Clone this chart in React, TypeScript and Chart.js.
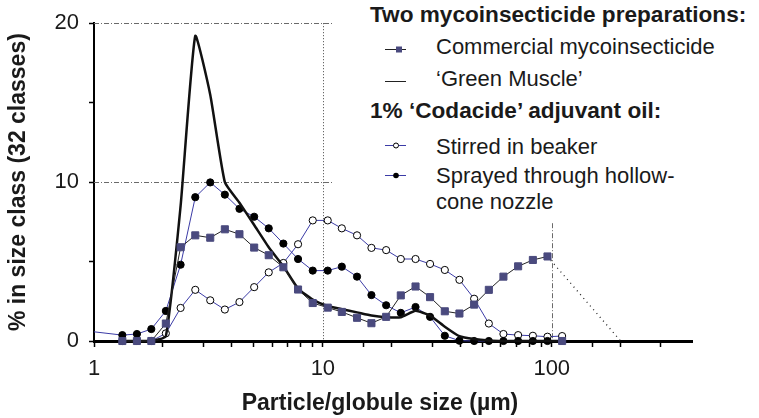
import React, { useEffect, useRef } from "react";
import { Chart, registerables } from "chart.js";

Chart.register(...registerables);

// Size classes (µm)
const sizes = [1.33, 1.54, 1.78, 2.06, 2.39, 2.77, 3.22, 3.73, 4.32, 5.01, 5.8, 6.72, 7.79, 9.03, 10.5, 12.1, 14.1, 16.3, 18.9, 21.9, 25.4, 29.4, 34.1, 39.5, 45.8, 53.1, 61.5, 71.3, 82.7, 95.8, 111];

const commercial = [0, 0, 0, 1.1, 5.9, 6.65, 6.5, 7.03, 6.72, 5.88, 5.4, 4.64, 3.24, 2.39, 2.1, 1.83, 1.46, 1.12, 1.52, 2.87, 3.43, 2.76, 1.87, 1.73, 2.29, 3.22, 4.05, 4.7, 5.1, 5.32, 0];
const greenMuscle = [0, 0, 0, 0.3, 8.5, 19.2, 15.5, 10.0, 8.7, 7.3, 5.9, 4.7, 3.3, 2.6, 2.2, 2.0, 1.8, 1.6, 1.5, 1.5, 1.9, 1.6, 0.9, 0.3, 0.12, 0.03, 0, 0, 0, 0, 0];
const stirred = [0, 0, 0, 0.48, 2.08, 3.22, 2.56, 1.98, 2.45, 3.39, 4.32, 4.91, 6.09, 7.59, 7.59, 7.09, 6.65, 5.86, 5.72, 5.16, 5.16, 4.85, 4.47, 3.85, 2.66, 1.1, 0.44, 0.37, 0.33, 0.27, 0.31];
const sprayed = [0.37, 0.44, 0.75, 1.89, 4.8, 9.05, 9.98, 9.21, 8.32, 7.82, 7.09, 6.13, 5.16, 4.43, 4.43, 4.68, 4.05, 2.89, 2.25, 1.77, 2.14, 1.52, 0.33, 0.02, 0, 0, 0, 0, 0, 0, null];
const sprayedLeadSize = 0.87;
const sprayedLeadValue = 0.68;

// dotted extrapolation of the commercial curve
const tailSizes = [95.8, 200];
const tailValues = [5.32, 0];

const xLabelValues = [1, 10, 100];
const xTickMax = 300;
const yLabelValues = [0, 10, 20];
const gridY = [10, 20];
const gridXDotted = [10];
const gridXDashDot = [100];

const xTitle = "Particle/globule size (\u00b5m)";
const yTitle = "% in size class (32 classes)";
const legendHead1 = "Two mycoinsecticide preparations:";
const legendHead2 = "1% \u2018Codacide\u2019 adjuvant oil:";
const legendCommercial = "Commercial mycoinsecticide";
const legendGreen = "\u2018Green Muscle\u2019";
const legendStirred = "Stirred in beaker";
const legendSprayed1 = "Sprayed through hollow-";
const legendSprayed2 = "cone nozzle";

const FONT = '"Liberation Sans", Arial, Helvetica, sans-serif';
const BLUE = "#3b3ba6";
const SQUARE = "#4a4a7e";
const INK = "#1a1a1a";

const pts = (xs: number[], ys: (number | null)[]) => xs.map((x, i) => ({ x, y: ys[i] }));

const guides = {
  id: "guides",
  beforeDatasetsDraw(chart: any) {
    const { ctx, chartArea: a, scales } = chart;
    const x = scales.x;
    const y = scales.y;
    ctx.save();
    ctx.lineWidth = 1;
    ctx.strokeStyle = "#6a6a6a";
    ctx.setLineDash([5, 2, 1, 2]);
    for (const v of gridY) {
      const py = Math.round(y.getPixelForValue(v)) + 0.5;
      ctx.beginPath();
      ctx.moveTo(a.left, py);
      ctx.lineTo(a.right, py);
      ctx.stroke();
    }
    for (const v of gridXDashDot) {
      const px = Math.round(x.getPixelForValue(v)) + 0.5;
      ctx.beginPath();
      ctx.moveTo(px, a.top);
      ctx.lineTo(px, a.bottom);
      ctx.stroke();
    }
    ctx.strokeStyle = "#444";
    ctx.setLineDash([1, 2]);
    for (const v of gridXDotted) {
      const px = Math.round(x.getPixelForValue(v)) + 0.5;
      ctx.beginPath();
      ctx.moveTo(px, a.top);
      ctx.lineTo(px, a.bottom);
      ctx.stroke();
    }
    ctx.restore();
  },
};

function Legend() {
  const textBase: React.CSSProperties = {
    position: "absolute",
    fontFamily: FONT,
    fontSize: 22,
    lineHeight: "22px",
    color: INK,
    whiteSpace: "nowrap",
  };
  const row = (baseline: number, left: number, text: string, bold = false) => (
    <div
      style={{
        ...textBase,
        left: left - 333,
        top: baseline - 18.6,
        fontWeight: bold ? "bold" : "normal",
        fontSize: bold ? 22.6 : 22,
      }}
    >
      {text}
    </div>
  );
  return (
    <div style={{ position: "absolute", left: 333, top: 0, width: 426, height: 222, background: "#fff" }}>
      <svg width={426} height={222} style={{ position: "absolute", left: 0, top: 0 }}>
        <g transform="translate(-333,0)">
          <line x1={385} x2={406} y1={49.5} y2={49.5} stroke="#222" strokeWidth={1} />
          <rect x={396} y={46.5} width={6} height={6} fill={SQUARE} />
          <line x1={385} x2={406} y1={81.5} y2={81.5} stroke="#222" strokeWidth={1} />
          <line x1={385} x2={406} y1={145.5} y2={145.5} stroke={BLUE} strokeWidth={1} />
          <circle cx={396} cy={145.5} r={2.5} fill="#fff" stroke="#000" strokeWidth={1} />
          <line x1={385} x2={406} y1={175.5} y2={175.5} stroke={BLUE} strokeWidth={1} />
          <circle cx={396} cy={175.5} r={2.8} fill="#000" />
        </g>
      </svg>
      {row(23, 370, legendHead1, true)}
      {row(55, 436, legendCommercial)}
      {row(87, 436, legendGreen)}
      {row(119, 370, legendHead2, true)}
      {row(155, 436, legendStirred)}
      {row(184, 436, legendSprayed1)}
      {row(210, 436, legendSprayed2)}
    </div>
  );
}

export default function App() {
  const canvasRef = useRef<HTMLCanvasElement | null>(null);

  useEffect(() => {
    if (!canvasRef.current) return;
    const tickFont = { family: FONT, size: 22 };
    const chart = new Chart(canvasRef.current, {
      type: "line",
      data: {
        datasets: [
          {
            label: "Commercial mycoinsecticide",
            data: pts(sizes, commercial),
            borderColor: "#222",
            borderWidth: 1,
            pointStyle: "rect",
            pointRadius: 5,
            pointBackgroundColor: SQUARE,
            pointBorderColor: SQUARE,
            pointBorderWidth: 1,
            segment: {
              borderColor: (c: any) => (c.p1DataIndex === commercial.length - 1 ? "rgba(0,0,0,0)" : "#222"),
            },
            order: 0,
            clip: false,
          } as any,
          {
            label: "Green Muscle",
            data: pts(sizes, greenMuscle),
            borderColor: "#111",
            borderWidth: 2.5,
            pointRadius: 0,
            tension: 0.15,
            order: 1,
            clip: false,
          },
          {
            label: "Sprayed through hollow-cone nozzle",
            data: [{ x: sprayedLeadSize, y: sprayedLeadValue }, ...pts(sizes, sprayed)],
            borderColor: BLUE,
            borderWidth: 1,
            pointRadius: 3.6,
            pointBackgroundColor: "#000",
            pointBorderColor: "#000",
            pointBorderWidth: 1,
            order: 2,
            clip: { left: 0, top: false, right: false, bottom: false },
          } as any,
          {
            label: "Stirred in beaker",
            data: pts(sizes, stirred),
            borderColor: BLUE,
            borderWidth: 1,
            pointRadius: 3.6,
            pointBackgroundColor: "#fff",
            pointBorderColor: "#000",
            pointBorderWidth: 1,
            order: 3,
            clip: false,
          },
          {
            label: "extrapolation",
            data: pts(tailSizes, tailValues),
            borderColor: "#222",
            borderWidth: 1.3,
            borderDash: [1, 4],
            pointRadius: 0,
            order: 4,
            clip: false,
          },
        ],
      },
      options: {
        animation: false,
        responsive: false,
        devicePixelRatio: 1,
        layout: { padding: { left: 0, right: 67, top: 20, bottom: 0 } },
        plugins: { legend: { display: false }, tooltip: { enabled: false } },
        scales: {
          x: {
            type: "logarithmic",
            min: 1,
            max: 410,
            afterFit: (s: any) => {
              s.height = 77;
            },
            afterBuildTicks: (s: any) => {
              s.ticks = s.ticks.filter((t: any) => t.value <= xTickMax);
            },
            ticks: {
              autoSkip: false,
              maxRotation: 0,
              minRotation: 0,
              padding: 9,
              color: INK,
              font: tickFont,
              callback: (v: any) => (xLabelValues.includes(Number(v)) ? String(v) : ""),
            },
            grid: { drawOnChartArea: false, drawTicks: true, tickLength: 6, tickWidth: 1.5, tickColor: "#000" },
            border: { display: true, color: "#000", width: 3 },
          },
          y: {
            type: "linear",
            min: 0,
            max: 20,
            afterFit: (s: any) => {
              s.width = 94;
            },
            ticks: {
              stepSize: 5,
              padding: 10,
              color: INK,
              font: tickFont,
              callback: (v: any) => (yLabelValues.includes(Number(v)) ? String(v) : ""),
            },
            grid: { drawOnChartArea: false, drawTicks: true, tickLength: 5, tickWidth: 1.5, tickColor: "#000" },
            border: { display: true, color: "#000", width: 2 },
            title: {
              display: true,
              text: yTitle,
              color: INK,
              font: { family: FONT, size: 23, weight: "bold" },
              padding: { top: 5, bottom: 0 },
            },
          },
        },
      },
      plugins: [guides],
    } as any);
    return () => chart.destroy();
  }, []);

  return (
    <div style={{ position: "fixed", left: 0, top: 0, width: 759, height: 418, background: "#fff", overflow: "hidden" }}>
      <canvas ref={canvasRef} width={759} height={418} style={{ position: "absolute", left: 0, top: 0 }} />
      <Legend />
      <div
        style={{
          position: "absolute",
          left: 0,
          width: 760,
          top: 391,
          textAlign: "center",
          fontFamily: FONT,
          fontSize: 23,
          lineHeight: "23px",
          fontWeight: "bold",
          color: INK,
        }}
      >
        {xTitle}
      </div>
    </div>
  );
}
